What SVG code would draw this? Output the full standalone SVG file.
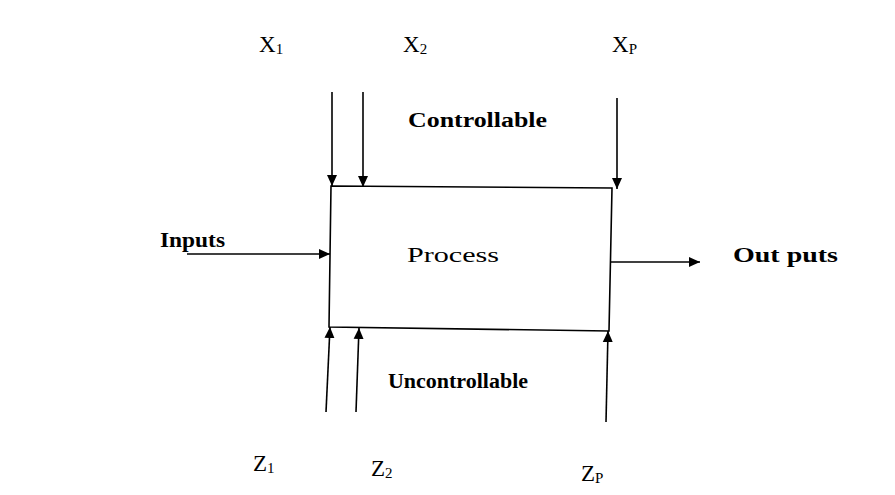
<svg xmlns="http://www.w3.org/2000/svg" width="895" height="495" viewBox="0 0 895 495">
  <defs>
    <marker id="ah" markerUnits="userSpaceOnUse" markerWidth="12" markerHeight="12" viewBox="0 0 12 12" refX="11" refY="6" orient="auto">
      <path d="M0,1 L11,6 L0,11 Z" fill="#000"/>
    </marker>
    <style>
      .ln { stroke:#000; stroke-width:1.6; fill:none; }
      .arr { stroke:#000; stroke-width:1.6; fill:none; marker-end:url(#ah); }
      .bold { font-family:"Liberation Serif", "Times New Roman", serif; font-weight:bold; font-size:20px; fill:#000; }
      .reg { font-family:"Liberation Serif", "Times New Roman", serif; font-size:21px; fill:#000; }
      .lab { font-family:"Liberation Serif", "Times New Roman", serif; font-size:23px; fill:#000; }
      .sub { font-size:15px; }
    </style>
  </defs>
  <rect width="895" height="495" fill="#fff"/>

  <g id="process">
    <polygon class="ln" points="331,186 612,188 609,331 329,327"/>
    <text class="reg" x="407" y="262" textLength="92" lengthAdjust="spacingAndGlyphs">Process</text>
  </g>

  <g id="labels">
    <text id="inputs" class="bold" x="160" y="247" textLength="65" lengthAdjust="spacingAndGlyphs">Inputs</text>
    <text id="outputs" class="bold" x="733" y="262" textLength="105" lengthAdjust="spacingAndGlyphs">Out puts</text>
    <text id="controllable" class="bold" x="408" y="127" textLength="139" lengthAdjust="spacingAndGlyphs">Controllable</text>
    <text id="uncontrollable" class="bold" x="388" y="388" textLength="140" lengthAdjust="spacingAndGlyphs">Uncontrollable</text>
  </g>

  <g id="x1"><text class="lab" x="259" y="52">X<tspan class="sub" dy="2">1</tspan></text></g>
  <g id="x2"><text class="lab" x="403" y="52">X<tspan class="sub" dy="2">2</tspan></text></g>
  <g id="xp"><text class="lab" x="612" y="52">X<tspan class="sub" dy="2">P</tspan></text></g>
  <g id="z1"><text class="lab" x="253" y="471">Z<tspan class="sub" dy="2">1</tspan></text></g>
  <g id="z2"><text class="lab" x="371" y="476">Z<tspan class="sub" dy="2">2</tspan></text></g>
  <g id="zp"><text class="lab" x="581" y="481">Z<tspan class="sub" dy="2">P</tspan></text></g>

  <g id="connectors">
    <line class="arr" x1="332" y1="92" x2="332" y2="186"/>
    <line class="arr" x1="363" y1="92" x2="363" y2="187"/>
    <line class="arr" x1="617" y1="98" x2="617" y2="189"/>
    <line class="arr" x1="326" y1="412" x2="330" y2="327"/>
    <line class="arr" x1="356" y1="412" x2="359" y2="328"/>
    <line class="arr" x1="606" y1="422" x2="608" y2="331"/>
    <line class="arr" x1="187" y1="254" x2="330" y2="254"/>
    <line class="arr" x1="611" y1="262" x2="700" y2="262"/>
  </g>
</svg>
